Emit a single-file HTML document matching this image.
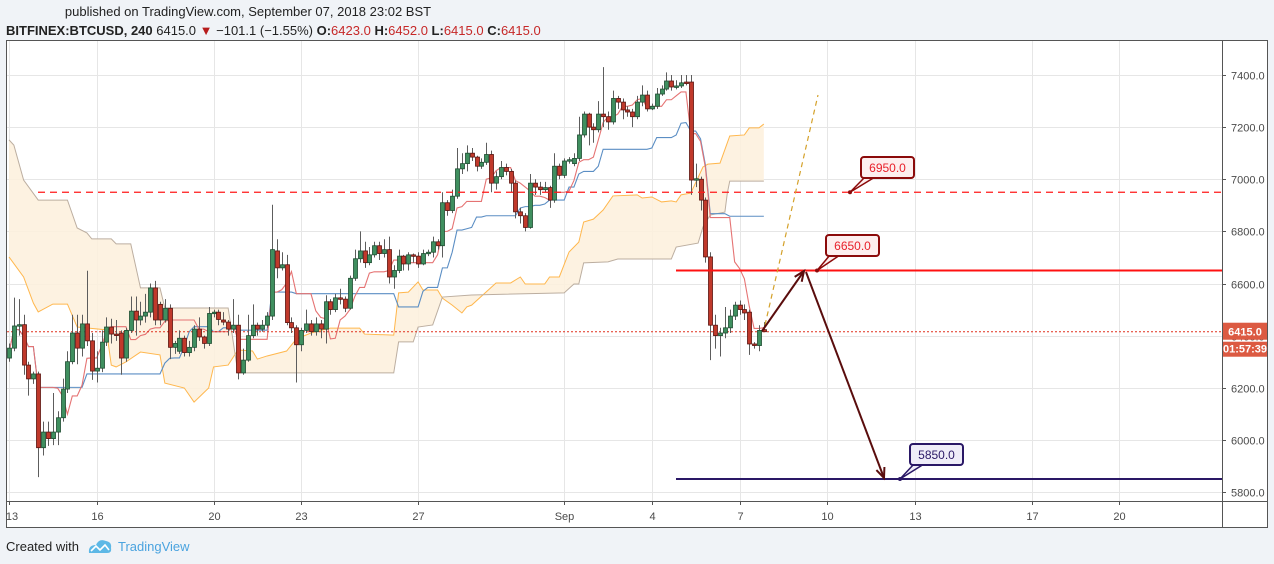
<!DOCTYPE html>
<html><head><meta charset="utf-8">
<style>
html,body{margin:0;padding:0;background:#f0f3f7;}
svg{display:block;font-family:"Liberation Sans",sans-serif;}
</style></head>
<body>
<svg id="chart" width="1274" height="564" viewBox="0 0 1274 564">
  <rect x="0" y="0" width="1274" height="564" fill="#f0f3f7"/>
  <text x="248" y="16" font-size="13" fill="#222" text-anchor="middle">published on TradingView.com, September 07, 2018 23:02 BST</text>
  <text x="6" y="35" font-size="13" fill="#222"><tspan font-weight="bold">BITFINEX:BTCUSD, 240</tspan> 6415.0 <tspan fill="#b71c1c">▼</tspan> −101.1 (−1.55%) <tspan font-weight="bold">O:</tspan><tspan fill="#c62828">6423.0</tspan> <tspan font-weight="bold">H:</tspan><tspan fill="#c62828">6452.0</tspan> <tspan font-weight="bold">L:</tspan><tspan fill="#c62828">6415.0</tspan> <tspan font-weight="bold">C:</tspan><tspan fill="#c62828">6415.0</tspan></text>
  <rect x="6.5" y="40.5" width="1261" height="487" fill="#ffffff" stroke="#555" stroke-width="1"/>
  <g id="grid"></g>
  <g id="cloud"></g>
  <g id="lines"></g>
  <g id="candles"></g>
  <g id="draw"></g>
  <line x1="1222.5" y1="40" x2="1222.5" y2="527" stroke="#555"/>
  <line x1="6" y1="501.5" x2="1267" y2="501.5" stroke="#555"/>
  <g id="axes"></g>
  <g>
    <text x="6" y="551" font-size="13" fill="#222">Created with</text>
    <path d="M89 553 Q88 545 96 545 Q99 538 106 541 Q112 542 111 548 Q112 553 107 553 Z" fill="#5db8e6"/>
    <polyline points="91,551 96,546 100,550 105,545 109,550" fill="none" stroke="#fff" stroke-width="1.6"/>
    <text x="118" y="551" font-size="13" fill="#4aa3df">TradingView</text>
  </g>
</svg>
<script>
const opens=[6314,6352,6437,6442,6287,6234,6253,5970,6030,6005,6030,6085,6195,6300,6410,6352,6445,6380,6264,6275,6375,6433,6406,6410,6314,6420,6494,6460,6475,6490,6583,6520,6460,6505,6355,6340,6390,6335,6355,6425,6395,6370,6485,6490,6460,6452,6425,6440,6257,6306,6400,6440,6425,6440,6475,6725,6660,6672,6450,6430,6365,6420,6445,6415,6445,6425,6530,6500,6545,6540,6505,6620,6695,6725,6680,6710,6745,6715,6730,6625,6650,6705,6675,6710,6705,6675,6715,6720,6760,6745,6910,6880,6935,7040,7060,7100,7085,7050,7065,7095,6985,7010,7045,7030,6985,6875,6860,6815,6985,6970,6960,6968,6920,7050,7015,7070,7060,7080,7170,7250,7200,7190,7250,7240,7220,7310,7296,7266,7258,7240,7296,7323,7270,7280,7327,7346,7377,7354,7358,7373,7373,6997,7000,6920,6702,6440,6400,6410,6430,6475,6517,6500,6490,6368,6362,6423];
const closes=[6352,6437,6442,6287,6234,6253,5970,6030,6005,6030,6085,6195,6300,6410,6352,6445,6380,6264,6275,6375,6433,6406,6402,6314,6420,6494,6460,6475,6490,6583,6460,6460,6505,6355,6370,6390,6335,6355,6425,6395,6370,6485,6490,6462,6452,6425,6440,6257,6306,6400,6440,6425,6440,6475,6730,6660,6672,6450,6430,6365,6420,6445,6415,6445,6425,6530,6500,6545,6540,6505,6620,6695,6725,6680,6710,6745,6715,6730,6625,6650,6705,6675,6710,6705,6675,6715,6720,6760,6745,6910,6880,6935,7040,7060,7100,7085,7050,7065,7095,6985,7010,7045,7030,6985,6875,6860,6815,6985,6970,6960,6968,6920,7050,7015,7070,7075,7080,7170,7250,7200,7190,7250,7240,7220,7310,7296,7266,7258,7240,7296,7323,7270,7280,7327,7346,7377,7354,7358,7370,7370,6997,7002,6920,6702,6440,6400,6410,6430,6475,6517,6500,6487,6368,6362,6420,6415];
const highs=[6370,6546,6540,6480,6300,6262,6262,6070,6070,6180,6110,6235,6340,6480,6480,6480,6649,6410,6340,6420,6470,6465,6460,6420,6430,6550,6550,6530,6560,6600,6610,6530,6540,6520,6380,6420,6400,6380,6440,6470,6400,6510,6500,6500,6490,6460,6540,6480,6350,6480,6520,6450,6460,6490,6902,6770,6720,6710,6470,6440,6430,6500,6460,6470,6460,6555,6540,6560,6580,6550,6630,6730,6800,6760,6740,6760,6760,6770,6780,6670,6730,6710,6720,6715,6720,6730,6730,6780,6770,6950,6920,6960,7120,7100,7130,7120,7090,7080,7140,7110,7030,7070,7060,7040,6995,6890,6870,7020,7000,6990,6990,6975,7100,7060,7080,7085,7100,7240,7260,7255,7215,7300,7430,7260,7340,7320,7310,7280,7270,7320,7360,7340,7290,7350,7360,7410,7400,7380,7400,7400,7400,7060,7010,6930,6720,6480,6430,6510,6500,6530,6535,6520,6500,6375,6440,6452];
const lows=[6300,6340,6400,6250,6170,6215,5857,5940,5977,5980,5980,6070,6180,6290,6290,6320,6360,6230,6220,6260,6360,6370,6380,6250,6300,6410,6400,6440,6450,6470,6440,6440,6450,6310,6330,6330,6320,6320,6340,6380,6350,6360,6470,6440,6440,6400,6410,6232,6250,6300,6390,6400,6415,6430,6460,6620,6650,6440,6410,6220,6340,6410,6400,6400,6390,6370,6480,6490,6520,6490,6500,6610,6680,6660,6670,6700,6690,6700,6600,6580,6640,6650,6650,6680,6660,6670,6705,6700,6730,6700,6860,6870,6925,7020,7030,7070,7030,7040,7055,6950,6960,7000,7015,6950,6850,6830,6800,6810,6940,6940,6950,6890,6910,7000,7005,7060,7050,7070,7160,7130,7140,7180,7200,7190,7210,7270,7230,7240,7200,7230,7280,7260,7265,7270,7320,7340,7340,7345,7350,7360,6940,6970,6880,6680,6306,6350,6320,6390,6410,6460,6480,6460,6326,6350,6340,6415];
const spanAIdx=[0,3,5,6,9,12,14,20,21,22,24,27,31,32,36,38,41,42,45,47,50,51,53,57,59,62,66,72,73,79,80,82,84,85,88,89,91,93,94,95,100,103,105,106,110,111,113,115,117,118,120,122,124,129,130,132,134,136,137,138,140,142.5,143.5,146,148,151,152,154,155];
const spanA=[6702,6625,6525,6491,6521,6521,6433,6422,6287,6280,6299,6337,6326,6218,6199,6145,6199,6280,6287,6345,6341,6310,6322,6341,6387,6410,6429,6429,6406,6402,6564,6567,6606,6575,6575,6544,6517,6487,6510,6517,6602,6602,6625,6598,6598,6625,6625,6721,6759,6836,6847,6882,6936,6940,6928,6932,6913,6917,6913,6940,6947,7047,7058,7062,7166,7170,7197,7197,7212];
const spanBIdx=[0,1,3,6,12,14,16,17,21,22,25,27,31,32,45,47,79,80,83,84,87,89,95,114,116,117,118,123,125,136,137,141.5,142.5,144,147,147.5,148,155];
const spanB=[7151,7131,6997,6920,6920,6813,6794,6771,6771,6752,6752,6583,6583,6506,6506,6257,6257,6376,6376,6433,6441,6548,6556,6564,6598,6598,6679,6683,6694,6694,6740,6755,6817,6863,6874,6947,6993,6993];
const priceTicks=[7400,7200,7000,6800,6600,6400,6200,6000,5800];
const dateLabels=["13","16","20","23","27","Sep","4","7","10","13","17","20"];
const dateDayOffsets=[0,3,7,10,14,19,22,25,28,31,35,38];
const lastPrice=6415;
const levelTop=6950, levelMid=6650, levelLow=5850;

const NS="http://www.w3.org/2000/svg";
const X0=9, DX=4.87;
function xOf(i){return X0+i*DX;}
function yOf(p){return 75+(7400-p)*0.26063;}
function xDay(d){return X0+d*6*DX;}
function mk(tag,attrs,parent){const e=document.createElementNS(NS,tag);for(const k in attrs)e.setAttribute(k,attrs[k]);parent.appendChild(e);return e;}
const grid=document.getElementById('grid'),cloud=document.getElementById('cloud'),lines=document.getElementById('lines'),cg=document.getElementById('candles'),draw=document.getElementById('draw'),axes=document.getElementById('axes');

priceTicks.forEach(v=>{
  const y=Math.round(yOf(v))+0.5;
  const l=mk('line',{x1:7,x2:1222,y1:y,y2:y,stroke:'#e6e6e6'},grid);
  
  
  const t=mk('text',{x:1231,y:y+4,'font-size':11,fill:'#4a4a4a'},axes);
  t.textContent=v.toFixed(1);
  
  
  const tk=mk('line',{x1:1222,x2:1226,y1:y,y2:y,stroke:'#555'},axes);
  
  
});
dateLabels.forEach((s,k)=>{
  const x=Math.round(xDay(dateDayOffsets[k]))+0.5;
  const l=mk('line',{x1:x,x2:x,y1:41,y2:501,stroke:'#e6e6e6'},grid);
  
  
  const tk=mk('line',{x1:x,x2:x,y1:501,y2:505,stroke:'#555'},axes);
  
  
  const t=mk('text',{x:k===0?12:x,y:520,'font-size':11,fill:'#4a4a4a','text-anchor':'middle'},axes);
  t.textContent=s;
  
  
});

// cloud
let poly=spanAIdx.map((i,k)=>xOf(i)+','+yOf(spanA[k]));
for(let k=spanBIdx.length-1;k>=0;k--)poly.push(xOf(spanBIdx[k])+','+yOf(spanB[k]));
const cf=mk('polygon',{points:poly.join(' '),fill:'#fdf0dc','fill-opacity':0.85},cloud);


const la=mk('polyline',{points:spanAIdx.map((i,k)=>xOf(i)+','+yOf(spanA[k])).join(' '),fill:'none',stroke:'#ffb74d','stroke-width':1},cloud);


const lb=mk('polyline',{points:spanBIdx.map((i,k)=>xOf(i)+','+yOf(spanB[k])).join(' '),fill:'none',stroke:'#bcaea0','stroke-width':1},cloud);



// tenkan / kijun
function midLine(n){const pts=[];for(let i=0;i<closes.length;i++){let hi=-1e9,lo=1e9;for(let j=Math.max(0,i-n+1);j<=i;j++){hi=Math.max(hi,highs[j]);lo=Math.min(lo,lows[j]);}pts.push(xOf(i)+','+yOf((hi+lo)/2));}return pts.join(' ');}
const kj=mk('polyline',{points:midLine(26),fill:'none',stroke:'#5b8ec4','stroke-width':1.1},lines);


const tk=mk('polyline',{points:midLine(9),fill:'none',stroke:'#e57373','stroke-width':1.1},lines);



// last price line
const ly=yOf(lastPrice);
const lp=mk('line',{x1:7,x2:1222,y1:ly,y2:ly,stroke:'#e0301e','stroke-width':1,'stroke-dasharray':'2,2'},lines);



// candles
for(let i=0;i<closes.length;i++){
  const x=Math.round(xOf(i))+0.5, up=closes[i]>=opens[i];
  const w=mk('line',{x1:x,x2:x,y1:yOf(highs[i]),y2:yOf(lows[i]),stroke:'#5d5d5d','stroke-width':1},cg);
  
  
  const t=yOf(Math.max(opens[i],closes[i])), b=yOf(Math.min(opens[i],closes[i]));
  const r=mk('rect',{x:x-2,y:t,width:4,height:Math.max(1.5,b-t),fill:up?'#3f8f5f':'#c0392b',stroke:up?'#1e4d31':'#5a1410','stroke-width':0.8},cg);
  
  
}

// drawings
const yTop=yOf(levelTop),yMid=yOf(levelMid),yLow=yOf(levelLow);
let e=mk('line',{x1:38,x2:1222,y1:yTop,y2:yTop,stroke:'#ff1a1a','stroke-width':1.3,'stroke-dasharray':'7,5'},draw);


e=mk('line',{x1:676,x2:1222,y1:yMid,y2:yMid,stroke:'#ff1111','stroke-width':2},draw);


e=mk('line',{x1:676,x2:1222,y1:yLow,y2:yLow,stroke:'#2a1866','stroke-width':2},draw);


e=mk('line',{x1:765,y1:325,x2:818,y2:95,stroke:'#d4a12a','stroke-width':1.2,'stroke-dasharray':'5,4'},draw);


// arrows
function arrow(x1,y1,x2,y2,name){
  const g=mk('g',{},draw);
  
  
  mk('line',{x1,y1,x2,y2,stroke:'#5a0d0d','stroke-width':2},g);
  const a=Math.atan2(y2-y1,x2-x1),L=11;
  const p1=[x2-L*Math.cos(a-0.4),y2-L*Math.sin(a-0.4)],p2=[x2-L*Math.cos(a+0.4),y2-L*Math.sin(a+0.4)];
  mk('polyline',{points:p1.join(',')+' '+x2+','+y2+' '+p2.join(','),fill:'none',stroke:'#5a0d0d','stroke-width':2},g);
}
arrow(762,331,804,271,'arrow-up-to-6650');
arrow(806,272,884,478,'arrow-down-to-5850');
// callouts
function callout(bx,by,w,txt,px,py,fill,stroke,color,name){
  const g=mk('g',{},draw);
  
  
  mk('polygon',{points:(bx+4)+','+(by+20)+' '+px+','+py+' '+(bx+14)+','+(by+20),fill:fill,stroke:stroke,'stroke-width':1.5},g);
  mk('rect',{x:bx,y:by,width:w,height:21,rx:3,fill:fill,stroke:stroke,'stroke-width':2},g);
  mk('circle',{cx:px,cy:py,r:2,fill:stroke},g);
  const t=mk('text',{x:bx+w/2,y:by+15,'font-size':12,fill:color,'text-anchor':'middle'},g);
  t.textContent=txt;
}
callout(861,157,53,levelTop.toFixed(1),850,yTop,'#fdeeee','#8b0a0a','#e8202a','label-6950');
callout(826,235,53,levelMid.toFixed(1),817,yMid,'#fdeeee','#8b0a0a','#e8202a','label-6650');
callout(910,444,53,levelLow.toFixed(1),900,yLow,'#efedf8','#2a1866','#2a1866','label-5850');

// price badge
e=mk('rect',{x:1223,y:ly-9,width:44,height:17,fill:'#dc5a42'},axes);


e=mk('text',{x:1245,y:ly+4,'font-size':11,'font-weight':'bold',fill:'#fff','text-anchor':'middle'},axes);
e.textContent=lastPrice.toFixed(1);


e=mk('rect',{x:1223,y:ly+10,width:44,height:15,fill:'#dc5a42'},axes);


e=mk('text',{x:1245,y:ly+21,'font-size':11,'font-weight':'bold',fill:'#fff','text-anchor':'middle'},axes);
e.textContent='01:57:39';


</script>
</body></html>
